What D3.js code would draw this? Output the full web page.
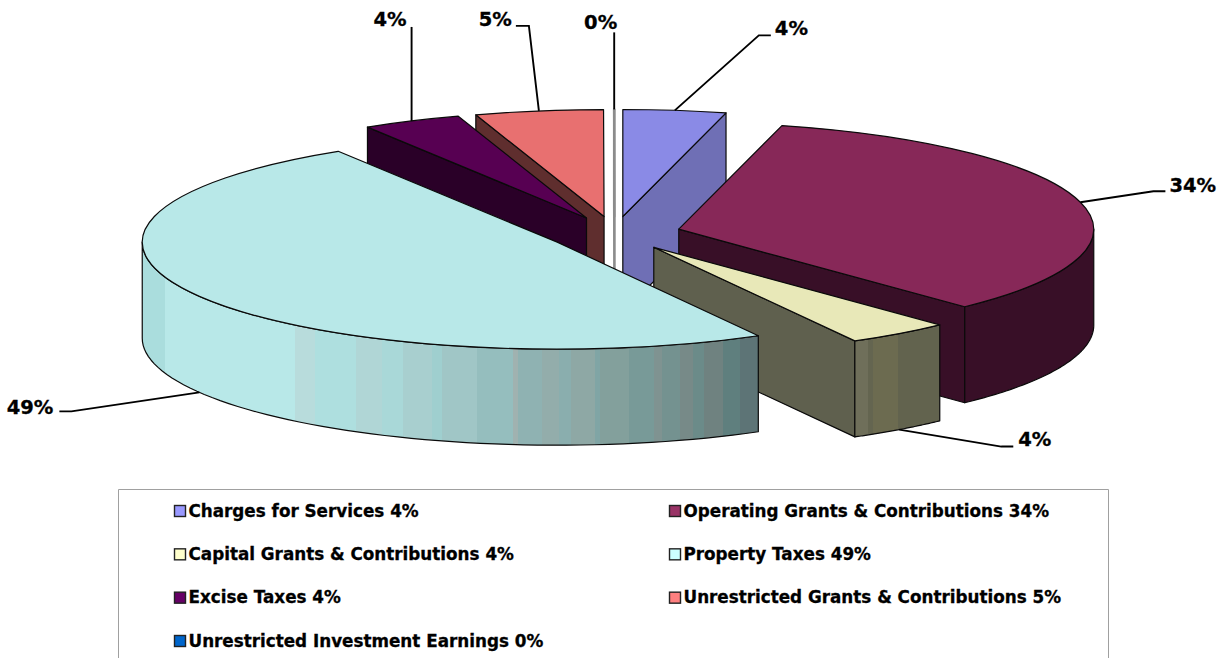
<!DOCTYPE html>
<html>
<head>
<meta charset="utf-8">
<script src="https://cdn.jsdelivr.net/npm/d3@7"></script>
<style>
html,body{margin:0;padding:0;background:#fff;overflow:hidden}
text{font-family:"DejaVu Sans",sans-serif;font-weight:bold;fill:#000;stroke:#000;stroke-width:.3px}
</style>
</head>
<body>
<div id="chart"></div>
<script>
// ---- data ----
const categories = ["Charges for Services","Operating Grants & Contributions","Capital Grants & Contributions","Property Taxes","Excise Taxes","Unrestricted Grants & Contributions","Unrestricted Investment Earnings"];
const shares = [4.0, 33.9, 4.05, 49.2, 3.85, 4.98, 0.02];
const percentLabels = ["4%","34%","4%","49%","4%","5%","0%"];
const legendColors = ["#9999ff","#993366","#ffffcc","#ccffff","#660066","#ff8080","#0066cc"];
const topColors = ["#8a8ae6","#872858","#e8e8b8","#b8e8e8","#570052","#e87070","#f4f4f4"];
const sideColors = ["#6f6fb5","#380f27","#5f604e","#5d7476","#2a0028","#5f2e2e","#e8e8e8"];
// wall shading bands: [right edge in px, colour]
const propertyBands = [[165,"#aadddd"],[295,"#b8e8e8"],[315,"#b8dcdc"],[356,"#aedfdf"],[382,"#b0d6d6"],[403,"#a9d8d8"],[432,"#a8cfcf"],[442,"#9fcfcf"],[477,"#a0c6c6"],[513,"#95bebe"],[518,"#a0b2b0"],[542,"#8fb2b2"],[559,"#93adab"],[571,"#8aaeae"],[595,"#8ea8a5"],[600,"#80a5a5"],[629,"#83a09c"],[654,"#789a98"],[662,"#7f9391"],[680,"#749290"],[693,"#778a88"],[704,"#6b8b89"],[723,"#6f8280"],[740,"#5f7f7e"],[758,"#5d7476"]];
const capitalBands = [[868,"#6f6f5a"],[873,"#646550"],[898,"#6c6b50"],[940,"#62634e"]];
// label layout: elbow and text anchor relative to each leader's start
const labelLayout = [
  {elbow:[[84,-75],[96,-75]], text:[100,-81], anchor:"start"},
  {elbow:[[73,-11],[85,-11]], text:[89,-16], anchor:"start"},
  {elbow:[[102,17],[114,17]], text:[119,11], anchor:"start"},
  {elbow:[[-128,19],[-140,19]], text:[-146,16], anchor:"end"},
  {elbow:[[0,-94]], text:[-5,-100], anchor:"end"},
  {elbow:[[-10,-85],[-23,-85]], text:[-27,-90], anchor:"end"},
  {elbow:[[0,-77]], text:[3,-86], anchor:"end"}
];

// ---- geometry ----
const W = 1228, H = 658;
const cx = 614.5, cy = 233.5, rx = 415, ry = 107, depth = 96, explode = 0.16;
const order = [0,6,5,4,1,2,3];   // painter's order, back to front

const svg = d3.select("#chart").append("svg").attr("width",W).attr("height",H).style("display","block");
const defs = svg.append("defs");

function bandGradient(id, bands, x0){
  const x1 = bands[bands.length-1][0];
  const s = d3.scaleLinear().domain([x0,x1]).range([0,1]);
  const g = defs.append("linearGradient").attr("id",id).attr("gradientUnits","userSpaceOnUse")
    .attr("x1",x0).attr("x2",x1).attr("y1",0).attr("y2",0);
  let prev = x0;
  bands.forEach(([x,c])=>{
    g.append("stop").attr("offset",s(prev)).attr("stop-color",c);
    g.append("stop").attr("offset",s(x)).attr("stop-color",c);
    prev = x;
  });
  return `url(#${id})`;
}
const wallFill = {3: bandGradient("wallProperty",propertyBands,143), 2: bandGradient("wallCapital",capitalBands,855)};

const arcs = d3.pie().sort(null).value(d=>d).startAngle(0).endAngle(2*Math.PI)(shares);
const arcGen = d3.arc().innerRadius(0).outerRadius(rx);
const sx = d3.scaleLinear().domain([-1,1]).range([-rx,rx]);
const sy = d3.scaleLinear().domain([-1,1]).range([-ry,ry]);
const line = d3.line();

const rim = (o,a,dy=0)=>[o[0]+sx(Math.sin(a)), o[1]+sy(-Math.cos(a))+dy];
const apexOf = d=>{
  const m = (d.startAngle+d.endAngle)/2;
  return [cx+explode*sx(Math.sin(m)), cy+explode*sy(-Math.cos(m))];
};
const edgeStyle = (sel,i)=>sel.attr("stroke", i===6 ? "#8c8c8c" : "#0a0a0a").attr("stroke-width", i===6 ? 2 : 1.2).attr("stroke-linejoin","round");

const pieG = svg.append("g");
order.forEach(i=>{
  const d = arcs[i], o = apexOf(d), g = pieG.append("g");
  // radial wall facing the viewer
  [[d.startAngle, Math.sin(d.startAngle)<0],[d.endAngle, Math.sin(d.endAngle)>0]].forEach(([a,vis])=>{
    if(!vis) return;
    const e = rim(o,a);
    edgeStyle(g.append("path").attr("fill",sideColors[i])
      .attr("d",line([o,e,[e[0],e[1]+depth],[o[0],o[1]+depth]])+"Z"),i);
  });
  // outer curved wall: only the front half is seen
  const a0 = Math.max(d.startAngle,Math.PI/2), a1 = Math.min(d.endAngle,3*Math.PI/2);
  if(a1>a0){
    const steps = d3.range(0,61).map(k=>a0+(a1-a0)*k/60);
    const pts = steps.map(a=>rim(o,a)).concat(steps.slice().reverse().map(a=>rim(o,a,depth)));
    edgeStyle(g.append("path").attr("fill",wallFill[i]||sideColors[i]).attr("d",line(pts)+"Z"),i);
  }
  // top face
  edgeStyle(g.append("path").attr("fill",topColors[i])
    .attr("transform",`translate(${o[0]},${o[1]}) scale(1,${ry/rx})`)
    .attr("vector-effect","non-scaling-stroke")
    .attr("d",arcGen(d)),i);
});

// ---- data labels with leader lines ----
const labelsG = svg.append("g");
arcs.forEach((d,i)=>{
  const m = (d.startAngle+d.endAngle)/2, o = apexOf(d);
  const s = rim(o,m, Math.cos(m)<0 ? depth : 0);
  const lay = labelLayout[i];
  const pts = [s].concat(lay.elbow.map(p=>[s[0]+p[0],s[1]+p[1]]));
  labelsG.append("path").attr("d",line(pts)).attr("fill","none").attr("stroke","#000").attr("stroke-width",1.9);
  labelsG.append("text").attr("x",s[0]+lay.text[0]).attr("y",s[1]+lay.text[1])
    .attr("text-anchor",lay.anchor).attr("dominant-baseline","middle")
    .style("font-size","19.5px").text(percentLabels[i]);
});

// ---- legend ----
const legend = svg.append("g");
legend.append("path").attr("d",line([[118.5,H],[118.5,489.5],[1108.5,489.5],[1108.5,H]]))
  .attr("fill","none").attr("stroke","#a0a0a0").attr("stroke-width",1);
const rowScale = d3.scalePoint().domain(d3.range(4)).range([511,641]);
const colScale = d3.scalePoint().domain(d3.range(2)).range([174,669]);
categories.forEach((c,i)=>{
  const col = i%2, row = Math.floor(i/2);
  const x = colScale(col), y = rowScale(row);
  legend.append("rect").attr("x",x+.5).attr("y",y-5.5).attr("width",11).attr("height",11)
    .attr("fill",legendColors[i]).attr("stroke","#222").attr("stroke-width",1.4);
  legend.append("text").attr("x",x+14.5).attr("y",y+.5).attr("dominant-baseline","middle")
    .style("font-size","16.8px").text(`${c} ${percentLabels[i]}`);
});
</script>
</body>
</html>
